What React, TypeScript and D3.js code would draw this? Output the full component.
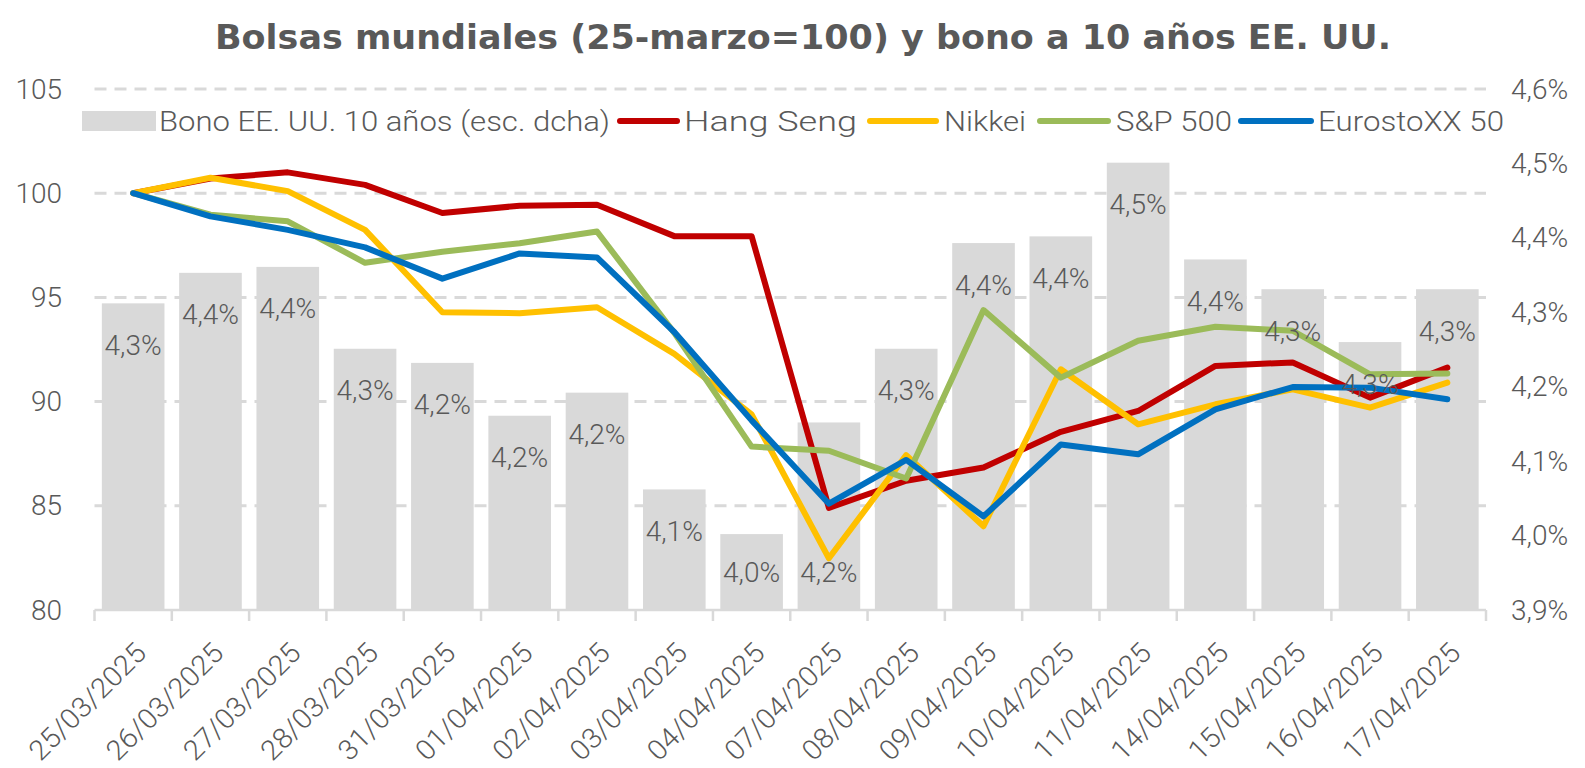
import React from "react";
import * as d3 from "d3";

const dates = [
  "25/03/2025", "26/03/2025", "27/03/2025", "28/03/2025", "31/03/2025", "01/04/2025",
  "02/04/2025", "03/04/2025", "04/04/2025", "07/04/2025", "08/04/2025", "09/04/2025",
  "10/04/2025", "11/04/2025", "14/04/2025", "15/04/2025", "16/04/2025", "17/04/2025",
];

const bono10 = [4.312, 4.353, 4.361, 4.251, 4.232, 4.161, 4.192, 4.062, 4.002, 4.152, 4.251, 4.393, 4.402, 4.501, 4.371, 4.331, 4.26, 4.331];
const hangSeng = [100, 100.7, 101.0, 100.4, 99.05, 99.4, 99.45, 97.94, 97.94, 84.9, 86.2, 86.84, 88.55, 89.55, 91.71, 91.88, 90.19, 91.63];
const nikkei = [100, 100.74, 100.1, 98.24, 94.29, 94.24, 94.53, 92.29, 89.39, 82.48, 87.43, 84.02, 91.55, 88.91, 89.87, 90.59, 89.71, 90.91];
const sp500 = [100, 98.97, 98.65, 96.66, 97.19, 97.6, 98.16, 93.3, 87.84, 87.64, 86.31, 94.39, 91.15, 92.92, 93.59, 93.4, 91.31, 91.35];
const eurostoxx = [100, 98.89, 98.24, 97.4, 95.9, 97.11, 96.92, 93.34, 89.1, 85.1, 87.2, 84.49, 87.94, 87.47, 89.63, 90.7, 90.67, 90.11];

const leftTicks = [80, 85, 90, 95, 100, 105];
const rightTicks = [3.9, 4.0, 4.1, 4.2, 4.3, 4.4, 4.5, 4.6];

const titleText = "Bolsas mundiales (25-marzo=100) y bono a 10 años EE. UU.";
const barLegend = "Bono EE. UU. 10 años (esc. dcha)";
const lineSeries = [
  { name: "Hang Seng", values: hangSeng, color: "#C00000" },
  { name: "Nikkei", values: nikkei, color: "#FFC000" },
  { name: "S&P 500", values: sp500, color: "#9BBB59" },
  { name: "EurostoXX 50", values: eurostoxx, color: "#0070C0" },
];

// layout (pixels) – label offset below bar top, per bar
const barLabelOffset = [42, 42, 42, 42, 42, 42, 42, 42, 38, 150, 42, 42, 42, 42, 42, 42, 42, 42];
// legend layout: symbol start, symbol width, text start, text length
const legendLayout = [
  { sx: 82, sw: 74, tx: 159, tl: 451 },
  { sx: 617, sw: 63, tx: 684, tl: 173 },
  { sx: 867, sw: 72, tx: 944, tl: 82 },
  { sx: 1037, sw: 74, tx: 1116, tl: 116 },
  { sx: 1238, sw: 76, tx: 1318, tl: 186 },
];

const W = 1585;
const H = 768;
const X0 = 94.5;
const X1 = 1486;
const YT = 89;
const YB = 610;
const GREY = "#595959";
const LIGHT = "#D9D9D9";
const FONT = "Roboto, 'Open Sans', sans-serif";

export default function App() {
  const x = d3.scaleBand<string>().domain(dates).range([X0, X1]).paddingInner(0.19).paddingOuter(0.095);
  const step = x.step();
  const bw = x.bandwidth();
  const cx = (d: string) => (x(d) as number) + bw / 2;
  const yL = d3.scaleLinear().domain([80, 105]).range([YB, YT]);
  const yR = d3.scaleLinear().domain([3.9, 4.6]).range([YB, YT]);
  const fmtPct = (v: number) => v.toFixed(1).replace(".", ",") + "%";

  const line = (vals: number[]) =>
    d3.line<number>().x((_, i) => cx(dates[i])).y((v) => yL(v))(vals) as string;

  return (
    <svg
      width={W}
      height={H}
      viewBox={`0 0 ${W} ${H}`}
      style={{ position: "absolute", left: 0, top: 0, background: "#fff", display: "block" }}
      fontFamily={FONT}
    >
      <rect x={0} y={0} width={W} height={H} fill="#fff" />
      {/* title */}
      <text
        x={215}
        y={49}
        textLength={1176}
        lengthAdjust="spacingAndGlyphs"
        fontFamily="'DejaVu Sans', sans-serif"
        fontWeight={700}
        fontSize={34}
        fill={GREY}
      >
        {titleText}
      </text>

      {/* gridlines */}
      {leftTicks.filter((t) => t !== 80).map((t) => (
        <line key={t} x1={X0} x2={X1} y1={yL(t)} y2={yL(t)} stroke={LIGHT} strokeWidth={3} strokeDasharray="12 8" />
      ))}

      {/* bars */}
      {dates.map((d, i) => (
        <rect key={d} x={x(d)} y={yR(bono10[i])} width={bw} height={YB - yR(bono10[i])} fill={LIGHT} />
      ))}

      {/* x axis */}
      <line x1={X0} x2={X1} y1={YB} y2={YB} stroke={LIGHT} strokeWidth={2.5} />
      {d3.range(dates.length + 1).map((i) => (
        <line key={i} x1={X0 + i * step} x2={X0 + i * step} y1={YB} y2={YB + 11} stroke={LIGHT} strokeWidth={2.5} />
      ))}

      {/* lines */}
      {lineSeries.map((s) => (
        <path key={s.name} d={line(s.values)} fill="none" stroke={s.color} strokeWidth={6} strokeLinejoin="round" strokeLinecap="round" />
      ))}

      {/* bar labels */}
      {dates.map((d, i) => (
        <text
          key={d}
          x={cx(d)}
          y={yR(bono10[i]) + barLabelOffset[i]}
          textAnchor="middle"
          dominantBaseline="central"
          fontSize={28}
          fontWeight={300}
          fill={GREY}
        >
          {fmtPct(bono10[i])}
        </text>
      ))}

      {/* left axis labels */}
      {leftTicks.map((t) => (
        <text key={t} x={62} y={yL(t)} textAnchor="end" dominantBaseline="central" fontSize={28} fontWeight={300} fill={GREY}>
          {t}
        </text>
      ))}
      {/* right axis labels */}
      {rightTicks.map((t) => (
        <text key={t} x={1511} y={yR(t)} textAnchor="start" dominantBaseline="central" fontSize={28} fontWeight={300} fill={GREY}>
          {fmtPct(t)}
        </text>
      ))}

      {/* x tick labels */}
      {dates.map((d) => (
        <text
          key={d}
          transform={`translate(${cx(d) + 8},${YB + 38}) rotate(-45)`}
          textAnchor="end"
          dominantBaseline="central"
          fontSize={28}
          fontWeight={300}
          fill={GREY}
          textLength={152}
          lengthAdjust="spacingAndGlyphs"
        >
          {d}
        </text>
      ))}

      {/* legend */}
      <rect x={legendLayout[0].sx} y={111} width={legendLayout[0].sw} height={20} fill={LIGHT} />
      <text x={legendLayout[0].tx} y={121} dominantBaseline="central" fontSize={28} fontWeight={300} fill={GREY} textLength={legendLayout[0].tl} lengthAdjust="spacingAndGlyphs">
        {barLegend}
      </text>
      {lineSeries.map((s, i) => {
        const L = legendLayout[i + 1];
        return (
          <g key={s.name}>
            <line x1={L.sx + 3} x2={L.sx + L.sw - 3} y1={121} y2={121} stroke={s.color} strokeWidth={6} strokeLinecap="round" />
            <text x={L.tx} y={121} dominantBaseline="central" fontSize={28} fontWeight={300} fill={GREY} textLength={L.tl} lengthAdjust="spacingAndGlyphs">
              {s.name}
            </text>
          </g>
        );
      })}
    </svg>
  );
}
